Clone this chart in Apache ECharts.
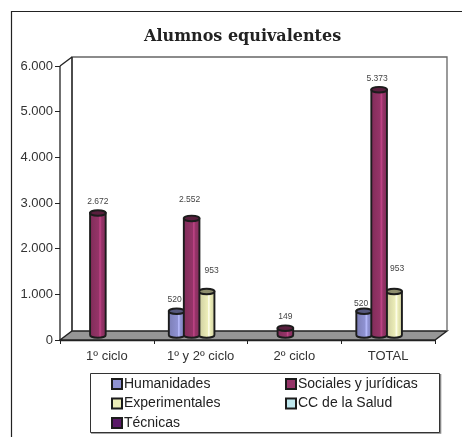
<!DOCTYPE html>
<html><head><meta charset="utf-8">
<style>html,body{margin:0;padding:0;background:#fff}#c{width:462px;height:437px}</style>
<script src="https://cdn.jsdelivr.net/npm/echarts@6/dist/echarts.min.js"></script>
</head><body><div id="c"></div>
<script>
const categories = ['1º ciclo', '1º y 2º ciclo', '2º ciclo', 'TOTAL'];
const humanidades = [null, 520, null, 520];
const sociales = [2672, 2552, 149, 5373];
const experimentales = [null, 953, null, 953];
const ccSalud = [null, null, null, null];
const tecnicas = [null, null, null, null];
const yTicks = [0, 1000, 2000, 3000, 4000, 5000, 6000];

// label nudges (style only, px) per series name and category index
const labelNudge = {
  'Humanidades': {1: [-2, -12], 3: [-3, -8]},
  'Sociales y jurídicas': {0: [0, -11], 1: [-2, -19], 2: [0, -12], 3: [-2, -11]},
  'Experimentales': {1: [5, -21], 3: [3, -23]}
};

const DEPTH_X = 12, DEPTH_Y = 9, MID_X = 6, MID_Y = 5, STEP = 15, RX = 7.8, RY = 2.8;
const fmt = v => String(v).replace(/\B(?=(\d{3})+$)/g, '.');

function shade(c, f) {
  const n = parseInt(c.slice(1), 16), k = x => Math.round(Math.min(255, Math.max(0, x * f)));
  return `rgb(${k(n >> 16)},${k((n >> 8) & 255)},${k(n & 255)})`;
}

function frameItem(params, api) {
  const a = api.coord([0, 0]), w = api.size([1, 0])[0];
  const x0 = a[0] - w / 2, x1 = x0 + w * categories.length, y0 = a[1], y1 = api.coord([0, 6000])[1];
  const line = {stroke: '#222', lineWidth: 1.3, fill: null};
  return {type: 'group', silent: true, children: [
    {type: 'polygon', shape: {points: [[x0, y0], [x0 + DEPTH_X, y0 - DEPTH_Y], [x1 + DEPTH_X, y0 - DEPTH_Y], [x1, y0]]},
      style: {fill: '#969696', stroke: '#222', lineWidth: 1.4}},
    {type: 'polyline', shape: {points: [[x0 + DEPTH_X, y0 - DEPTH_Y], [x0 + DEPTH_X, y1 - DEPTH_Y], [x1 + DEPTH_X, y1 - DEPTH_Y], [x1 + DEPTH_X, y0 - DEPTH_Y]]},
      style: {stroke: '#666', lineWidth: 1.3, fill: null}},
    {type: 'line', shape: {x1: x0 + DEPTH_X, y1: y0 - DEPTH_Y, x2: x0 + DEPTH_X, y2: y1 - DEPTH_Y}, style: line},
    {type: 'line', shape: {x1: x0, y1: y1, x2: x0 + DEPTH_X, y2: y1 - DEPTH_Y}, style: line},
    {type: 'line', shape: {x1: x0, y1: y0, x2: x0, y2: y1}, style: line}
  ]};
}

function cylinder(seriesIdx, color, name) {
  return function (params, api) {
    const v = api.value(1);
    if (v == null || isNaN(v)) return null;
    const base = api.coord([api.value(0), 0]), top = api.coord([api.value(0), v]);
    const cx = base[0] + MID_X + (seriesIdx - 2) * STEP;
    const yb = base[1] - MID_Y, yt = top[1] - MID_Y;
    const grad = {type: 'linear', x: 0, y: 0, x2: 1, y2: 0, colorStops: [
      {offset: 0, color: shade(color, 0.85)}, {offset: 0.55, color: color},
      {offset: 0.62, color: shade(color, 1.3)}, {offset: 0.72, color: color}, {offset: 1, color: shade(color, 0.85)}]};
    const n = (labelNudge[name] || {})[api.value(0)] || [0, -12];
    return {type: 'group', children: [
      {type: 'path', shape: {pathData:
        `M${cx - RX} ${yt} L${cx - RX} ${yb} A${RX} ${RY} 0 0 0 ${cx + RX} ${yb} L${cx + RX} ${yt} Z`},
        style: {fill: grad, stroke: '#1c1c1c', lineWidth: 1.9}},
      {type: 'ellipse', shape: {cx: cx, cy: yt, rx: RX, ry: RY}, style: {fill: shade(color, 0.6), stroke: '#1c1c1c', lineWidth: 1.9}},
      {type: 'text', style: {x: cx + n[0], y: yt + n[1], text: fmt(v), fill: '#444', fontSize: 8.5,
        fontFamily: 'Liberation Sans', align: 'center', verticalAlign: 'middle'}}
    ]};
  };
}

const seriesDefs = [
  ['Humanidades', humanidades, '#8f92d2'],
  ['Sociales y jurídicas', sociales, '#953468'],
  ['Experimentales', experimentales, '#ecedb8'],
  ['CC de la Salud', ccSalud, '#bfe8ee'],
  ['Técnicas', tecnicas, '#5a1a68']
];

const legendBase = {orient: 'vertical', icon: 'rect', itemWidth: 10, itemHeight: 10, itemGap: 5.5, top: 377, height: 58, padding: 0,
  itemStyle: {borderColor: '#1c1c1c', borderWidth: 2},
  textStyle: {fontFamily: 'Liberation Sans', fontSize: 14, color: '#222', padding: [0, 0, 0, -3]}, selectedMode: false};

const chart = echarts.init(document.getElementById('c'), null, {renderer: 'canvas'});
chart.setOption({
  animation: false,
  backgroundColor: '#fff',
  title: {text: 'Alumnos equivalentes', left: 139, top: 24, padding: 5,
    textStyle: {fontFamily: 'DejaVu Serif', fontWeight: 'bold', fontSize: 16, color: '#222'}},
  grid: {left: 60, right: 27, top: 66, bottom: 97},
  xAxis: {type: 'category', data: categories,
    axisLine: {show: true, lineStyle: {color: '#222', width: 1.4}},
    axisTick: {show: true, length: 4, lineStyle: {color: '#222'}},
    axisLabel: {color: '#333', fontFamily: 'Liberation Sans', fontSize: 13, margin: 10},
    splitLine: {show: false}},
  yAxis: {type: 'value', min: yTicks[0], max: yTicks[yTicks.length - 1], interval: 1000,
    axisLine: {show: false},
    axisTick: {show: true, length: 5, lineStyle: {color: '#222'}},
    axisLabel: {color: '#333', fontFamily: 'Liberation Sans', fontSize: 13, margin: 7, formatter: fmt},
    splitLine: {show: false}},
  legend: [
    Object.assign({}, legendBase, {left: 111, data: ['Humanidades', 'Experimentales', 'Técnicas']}),
    Object.assign({}, legendBase, {left: 285, data: ['Sociales y jurídicas', 'CC de la Salud']})
  ],
  graphic: [
    {type: 'polyline', silent: true, z: -1, shape: {points: [[11.5, 437], [11.5, 11.5], [462, 11.5]]}, style: {stroke: '#222', lineWidth: 1.2, fill: null}},
    {type: 'polyline', silent: true, z: -1, shape: {points: [[91, 433], [440.5, 433], [440.5, 374]]}, style: {stroke: '#888', lineWidth: 1.6, fill: null}},
    {type: 'rect', silent: true, z: -1, shape: {x: 90.5, y: 373.5, width: 349, height: 59},
      style: {fill: '#fff', stroke: '#333', lineWidth: 1}}
  ],
  series: [
    {type: 'custom', name: '__frame', z: 1, silent: true, renderItem: frameItem, data: [[0, 0]], encode: {x: 0, y: 1}, clip: false}
  ].concat(seriesDefs.map((d, i) => ({
    type: 'custom', name: d[0], z: 2 + (i === 1 ? 1 : 0), clip: false, renderItem: cylinder(i, d[2], d[0]),
    itemStyle: {color: d[2], borderColor: '#1c1c1c', borderWidth: 2},
    encode: {x: 0, y: 1},
    data: d[1].map((v, k) => [k, v])
  })))
});
</script></body></html>
